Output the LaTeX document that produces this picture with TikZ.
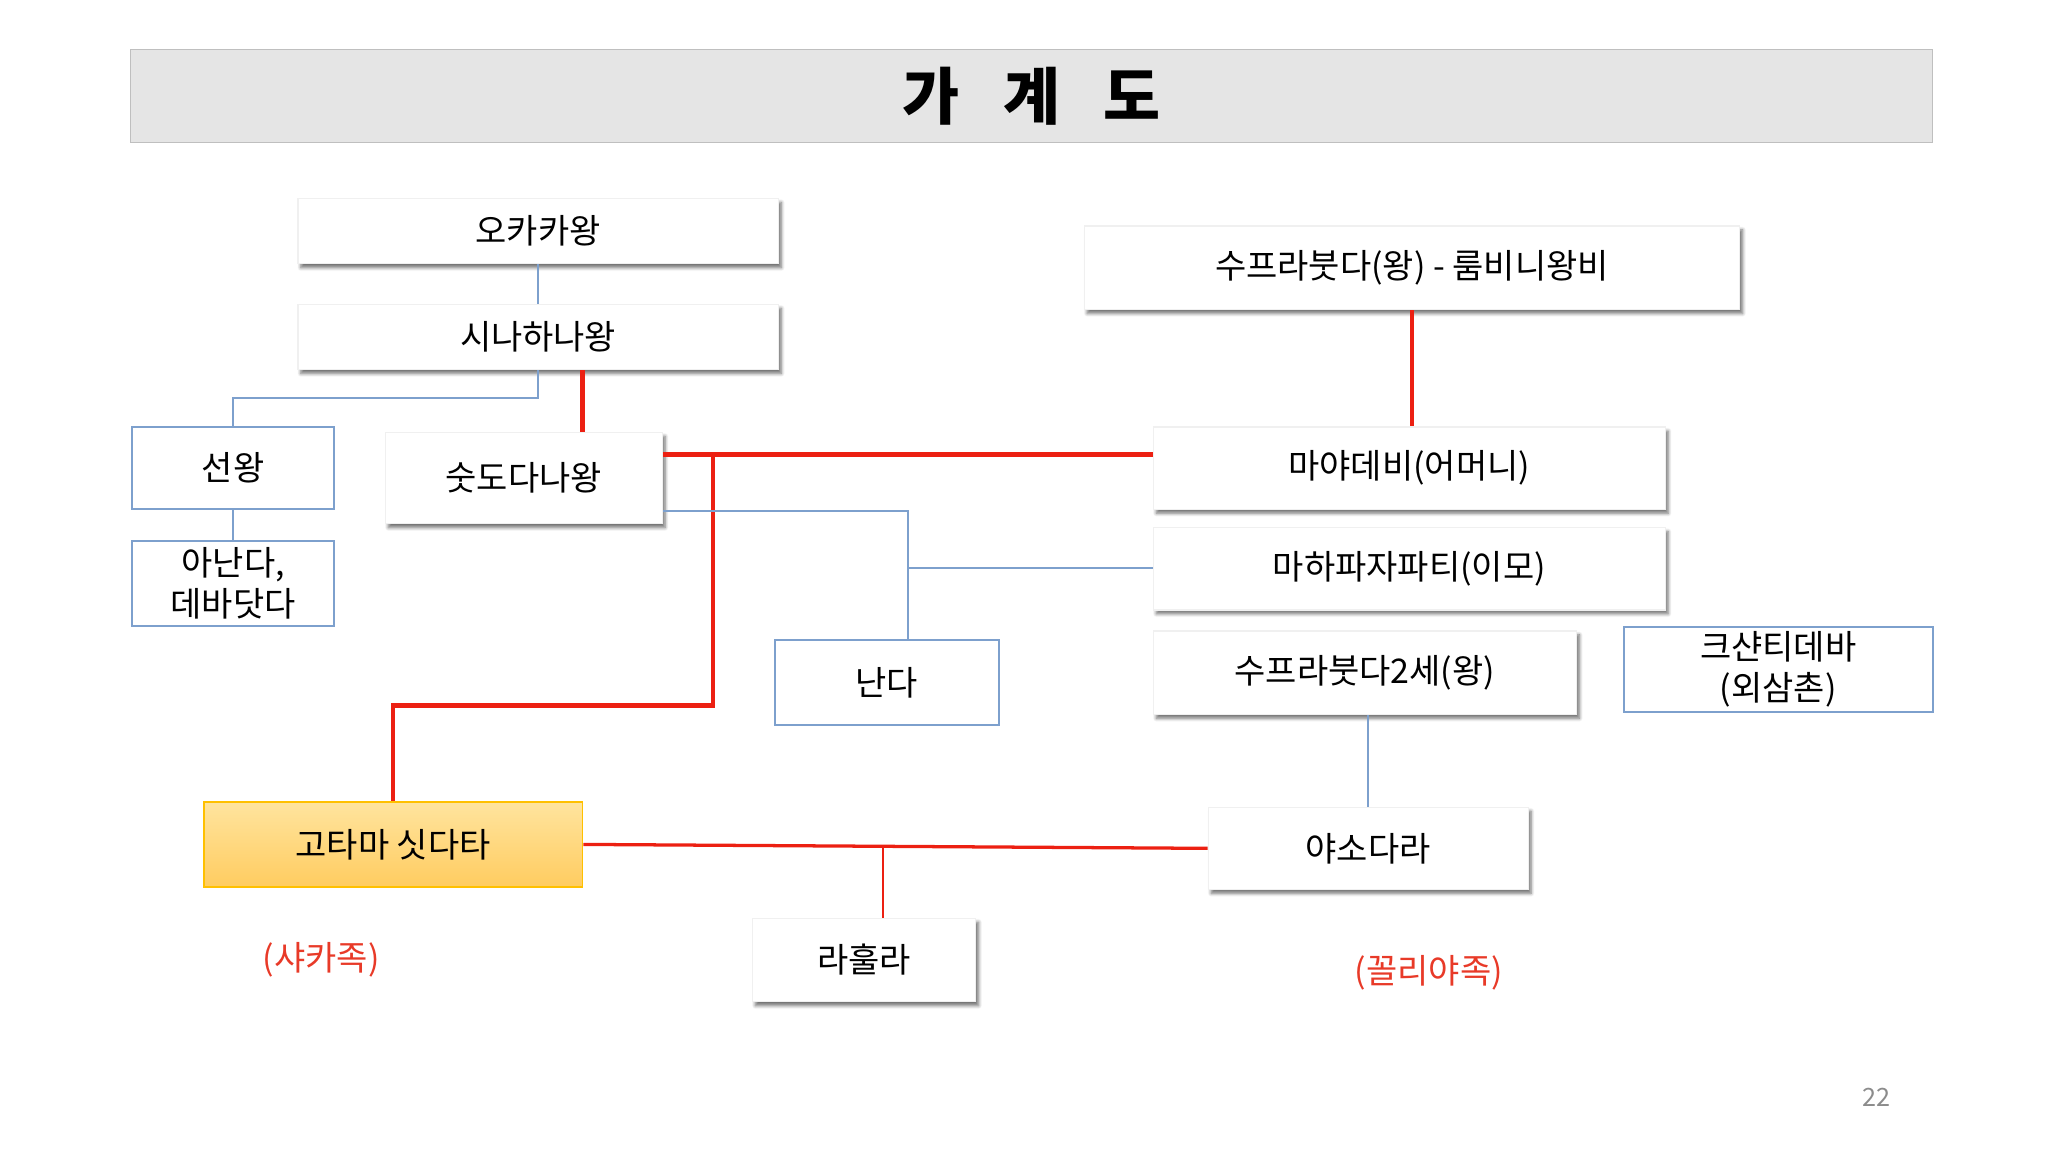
\documentclass[tikz,border=0pt]{standalone}
\usepackage{fontspec}
\setmainfont{Noto Sans CJK KR}
\usetikzlibrary{shadows.blur,calc}
\definecolor{linered}{RGB}{236,32,18}
\definecolor{lineblue}{RGB}{125,160,205}
\definecolor{titlegray}{RGB}{229,229,229}
\definecolor{boxorange}{RGB}{255,192,0}
\definecolor{clanred}{RGB}{232,58,40}

\begin{document}
\begin{tikzpicture}[x=0.02cm,y=-0.02cm,
  every node/.style={font=\fontsize{14.8}{18}\selectfont},
  kbox/.style={fill=white,draw=black!6,line width=0.02cm,inner sep=0pt,
    blur shadow={shadow xshift=0.045cm,shadow yshift=-0.06cm,shadow blur radius=0.05cm,
      shadow blur steps=6,shadow opacity=55}},
  bbox/.style={draw=lineblue,fill=white,inner sep=0pt,line width=0.03cm,align=center},
  kin/.style={draw=lineblue,line width=0.025cm},
  blood/.style={draw=linered,line width=0.07cm},
]
\useasboundingbox (0,0) rectangle (1568,880);

\node[draw=black!25,fill=titlegray,minimum width=27.6cm,minimum height=1.42cm,
  font=\fontsize{27}{30}\selectfont\bfseries] (title) at (790,73.5) {가\hspace{0.7em}계\hspace{0.7em}도};

% left branch
\node[kbox,minimum width=7.36cm,minimum height=1cm] (okaka) at (412,177) {오카카왕};
\node[kbox,minimum width=7.36cm,minimum height=1cm] (sinaha) at (412,258) {시나하나왕};
\node[bbox,minimum width=3.1cm,minimum height=1.26cm] (seon) at (178.5,358.5) {선왕};
\node[bbox,minimum width=3.1cm,minimum height=1.3cm] (ananda) at (178.5,446.5) {아난다,\\데바닷다};
\node[kbox,minimum width=4.24cm,minimum height=1.4cm] (sudo) at (401,366) {숫도다나왕};
\node[bbox,minimum width=3.44cm,minimum height=1.3cm] (nanda) at (679,522.5) {난다};

% right branch
\node[kbox,minimum width=10.04cm,minimum height=1.28cm] (supra) at (1081,205) {수프라붓다(왕) - 룸비니왕비};
\node[kbox,minimum width=7.84cm,minimum height=1.26cm] (maya) at (1079,358.5) {마야데비(어머니)};
\node[kbox,minimum width=7.84cm,minimum height=1.26cm] (maha) at (1079,435.5) {마하파자파티(이모)};
\node[kbox,minimum width=6.48cm,minimum height=1.28cm] (supra2) at (1045,515) {수프라붓다2세(왕)};
\node[bbox,minimum width=4.74cm,minimum height=1.3cm] (kshanti) at (1361.5,512.5) {크샨티데바\\(외삼촌)};
\node[kbox,minimum width=4.9cm,minimum height=1.26cm] (yaso) at (1047.5,649.5) {야소다라};

% siddhartha
\node[draw=boxorange,line width=0.03cm,top color={rgb,255:red,255;green,228;blue,158},
  bottom color={rgb,255:red,255;green,204;blue,96},minimum width=5.8cm,minimum height=1.3cm] (gotama) at (301,646.5) {고타마 싯다타};
\node[kbox,minimum width=3.42cm,minimum height=1.28cm] (rahula) at (661.5,735) {라훌라};

\node[text=clanred] (sakya) at (246,735) {(샤카족)};
\node[text=clanred] (koliya) at (1094,745) {(꼴리야족)};
\node[text=black!45,font=\fontsize{11}{13}\selectfont] (page) at (1437,840) {22};

% connectors
\draw[kin] (okaka.south) -- (sinaha.north);
\draw[kin] (sinaha.south) -- ++(0,21) -| (seon.north);
\draw[kin] (seon.south) -- (ananda.north);
\coordinate (heir) at ([xshift=0.68cm]sinaha.south);
\draw[blood] (heir) -- (heir |- sudo.north);
\coordinate (wed) at (546,348);
\draw[blood] (sudo.east |- wed) -- (maya.west |- wed);
\draw[blood] (supra.south) -- (supra.south |- maya.north);
\draw[blood] (wed) -- ++(0,192) -| (gotama.north);
\coordinate (nb) at (695,391);
\draw[kin] (sudo.east |- nb) -| (nb |- nanda.north);
\coordinate (aunt) at (695,435);
\draw[kin] (aunt) -- (maha.west |- aunt);
\draw[kin] (supra2.south -| yaso.north) -- (yaso.north);
\draw[draw=linered,line width=0.05cm] (gotama.east) -- (yaso.west);
\coordinate (son) at ($(gotama.east)!0.48!(yaso.west)$);
\draw[draw=linered,line width=0.035cm] (son) -- (son |- rahula.north);

\end{tikzpicture}
\end{document}
